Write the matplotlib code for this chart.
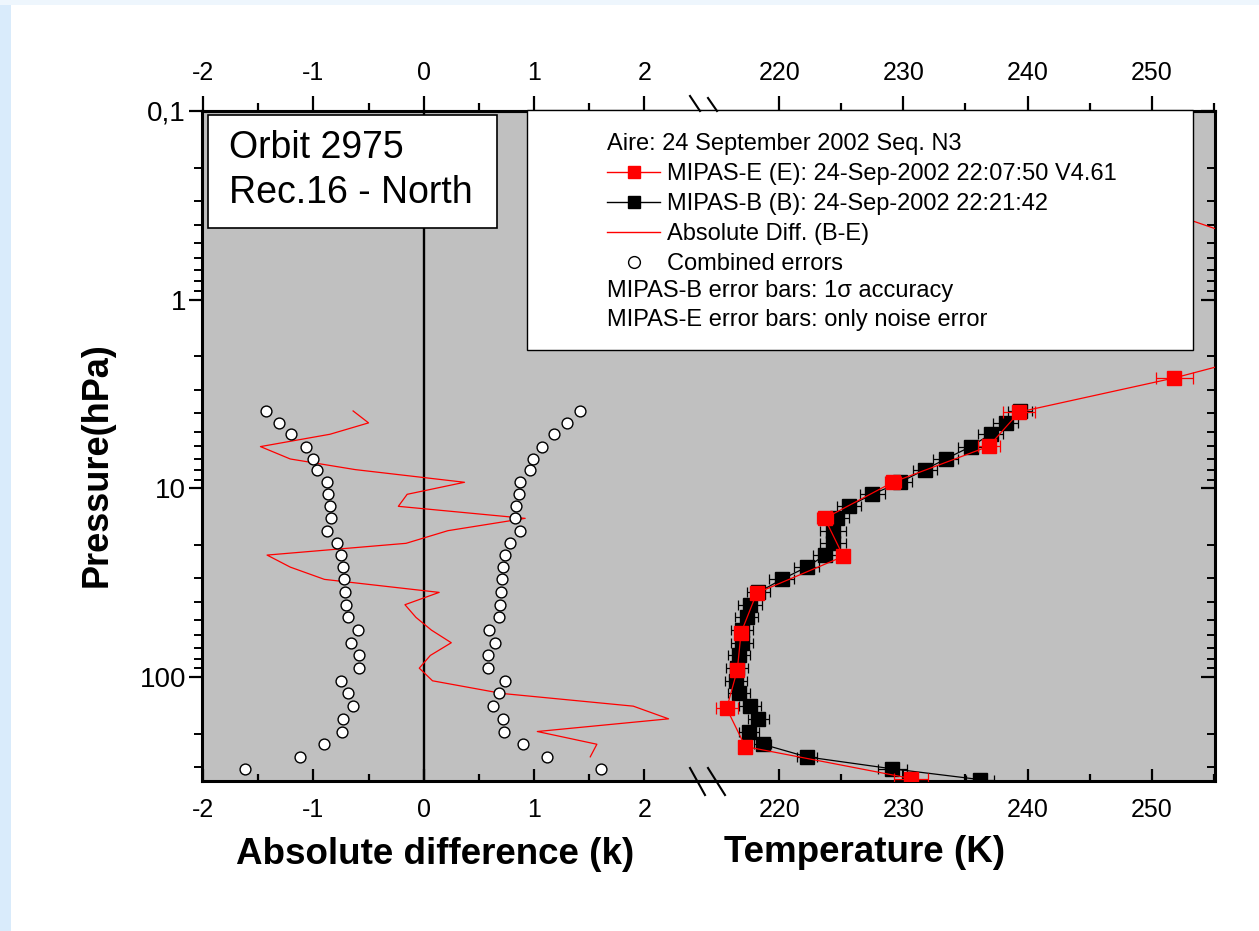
import matplotlib
matplotlib.use("Agg")
import matplotlib.pyplot as plt
from matplotlib.lines import Line2D
from matplotlib.patches import Rectangle
from matplotlib.ticker import FixedLocator, NullFormatter, LogLocator

plt.rcParams['font.family'] = ['Liberation Sans', 'DejaVu Sans']
plt.rcParams['axes.unicode_minus'] = False

# MIPAS-B levels (hPa) and temperatures (K)
b_pres = [3.89, 4.50, 5.17, 6.01, 6.99, 7.96, 9.29, 10.76, 12.46, 14.43,
          16.77, 19.57, 22.59, 26.16, 30.39, 35.62, 41.40, 48.34, 56.45, 65.85,
          76.89, 89.81, 104.8, 122.3, 142.8, 166.7, 194.6, 227.3, 265.1, 306.9, 349.9]
b_temp = [239.40, 238.24, 237.03, 235.42, 233.40, 231.73, 229.72, 227.48, 225.60, 224.61,
          224.34, 224.34, 223.69, 222.19, 220.18, 218.29, 217.62, 217.35, 216.98, 216.98,
          216.76, 216.57, 216.49, 216.76, 217.62, 218.29, 217.56, 218.65, 222.19, 229.10, 236.17]
b_err = [1.0, 1.0, 1.0, 1.0, 1.0, 1.0, 1.0, 1.0, 1.0, 1.0,
         1.05, 1.05, 1.0, 1.0, 1.0, 0.95, 0.95, 0.95, 0.9, 0.9,
         0.9, 0.9, 0.9, 0.9, 0.85, 0.85, 0.8, 0.7, 0.8, 1.15, 1.1]

# MIPAS-E levels (hPa) and temperatures (K)
e_pres = [0.361, 0.633, 1.07, 1.68, 2.60, 3.94, 5.99, 9.29, 14.43, 22.95,
          35.93, 58.29, 91.58, 146.9, 233.8, 345.6]
e_temp = [252.2, 263.0, 266.0, 262.8, 251.84, 239.34, 236.87, 229.13, 223.65, 225.15,
          218.16, 216.90, 216.60, 215.74, 217.24, 230.63]
e_err = [0.8, 1.8, 1.8, 1.6, 1.5, 1.3, 0.9, 0.65, 0.65, 0.3,
         0.3, 0.3, 0.3, 0.9, 0.3, 1.37]

# absolute difference B-E (K) on the first 29 B levels
abs_diff = [-0.64, -0.50, -0.85, -1.48, -1.21, -0.62, 0.37, -0.15, -0.23, 0.92,
            0.22, -0.16, -1.42, -1.21, -0.90, 0.14, -0.17, -0.07, 0.07, 0.25,
            0.06, -0.04, 0.08, 0.71, 1.90, 2.22, 1.03, 1.57, 1.51]

# combined errors (K) on the first 30 B levels
comb_lo = [-1.43, -1.31, -1.20, -1.07, -1.00, -0.97, -0.88, -0.87, -0.85, -0.84,
           -0.88, -0.79, -0.75, -0.73, -0.72, -0.71, -0.70, -0.69, -0.60, -0.66,
           -0.59, -0.59, -0.75, -0.69, -0.64, -0.73, -0.74, -0.90, -1.12, -1.62]
comb_hi = [1.42, 1.30, 1.18, 1.07, 0.99, 0.96, 0.87, 0.86, 0.84, 0.83,
           0.87, 0.78, 0.74, 0.72, 0.71, 0.70, 0.69, 0.68, 0.59, 0.65,
           0.58, 0.58, 0.74, 0.68, 0.63, 0.72, 0.73, 0.90, 1.12, 1.61]

diff_ticks = [-2, -1, 0, 1, 2]
diff_minor = [-1.5, -0.5, 0.5, 1.5]
temp_ticks = [220, 230, 240, 250]
temp_minor = [225, 235, 245, 255]
p_ticks = [0.1, 1, 10, 100]
p_labels = ['0,1', '1', '10', '100']

W, H = 1259, 931
fig = plt.figure(figsize=(W / 100, H / 100), dpi=100)
fig.patch.set_facecolor('white')


def fx(px):
    return px / W


def fy(py):
    return 1 - py / H


# pale blue page edges
fig.add_artist(Rectangle((0, 0), fx(11), 1, transform=fig.transFigure,
                         facecolor='#d9ebfb', edgecolor='none', zorder=0))
fig.add_artist(Rectangle((0, fy(5)), 1, 5 / H, transform=fig.transFigure,
                         facecolor='#eef6fd', edgecolor='none', zorder=0))

ax_bot, ax_h = fy(781), (781 - 111) / H
ax1 = fig.add_axes([fx(202), ax_bot, (700 - 202) / W, ax_h])
ax2 = fig.add_axes([fx(700), ax_bot, (1215 - 700) / W, ax_h], sharey=ax1)

gray = '#c0c0c0'
for ax in (ax1, ax2):
    ax.set_facecolor(gray)
    for s in ax.spines.values():
        s.set_linewidth(2.2)
ax1.spines['right'].set_visible(False)
ax2.spines['left'].set_visible(False)

# left panel: differences
ax1.axvline(0, color='black', lw=1.7, zorder=1.5)
ax1.plot(abs_diff, b_pres[:len(abs_diff)], color='red', lw=0.9, zorder=2)
ax1.plot(comb_lo, b_pres[:len(comb_lo)], 'o', mfc='white', mec='black', ms=7.8, mew=1, zorder=3)
ax1.plot(comb_hi, b_pres[:len(comb_hi)], 'o', mfc='white', mec='black', ms=7.8, mew=1, zorder=3)

# right panel: temperatures
ax2.errorbar(b_temp, b_pres, xerr=b_err, fmt='-s', color='black', ms=9.4, lw=0.9,
             elinewidth=0.9, capsize=3.5, capthick=0.9, zorder=3)
ax2.errorbar(e_temp, e_pres, xerr=e_err, fmt='-s', color='red', ms=9.4, lw=0.9,
             elinewidth=0.9, capsize=4.2, capthick=0.9, zorder=4)

ax1.set_yscale('log')
ax1.set_ylim(356, 0.1)
ax1.set_xlim(-2.01, 2.505)
ax2.set_xlim(213.59, 255.12)

ax1.set_yticks(p_ticks, p_labels)
ax1.yaxis.set_minor_locator(LogLocator(subs=range(2, 10), numticks=20))
ax1.yaxis.set_minor_formatter(NullFormatter())
ax1.tick_params(axis='y', which='major', direction='out', length=9.5, width=1.6,
                labelsize=20, pad=2, right=False)
ax1.tick_params(axis='y', which='minor', direction='out', length=5.5, width=1.4, right=False)
ax2.tick_params(axis='y', which='both', left=False, right=True, labelleft=False,
                direction='in')
ax2.tick_params(axis='y', which='major', length=10, width=1.6)
ax2.tick_params(axis='y', which='minor', length=5.8, width=1.4)

for ax, major, minor in ((ax1, diff_ticks, diff_minor), (ax2, temp_ticks, temp_minor)):
    ax.set_xticks(major)
    ax.xaxis.set_minor_locator(FixedLocator(minor))
    ax.tick_params(axis='x', which='both', direction='in', width=1.6, labelsize=18, pad=12)
    ax.tick_params(axis='x', which='major', length=9)
    ax.tick_params(axis='x', which='minor', length=5)
    sec = ax.secondary_xaxis('top')
    sec.set_xticks(major)
    sec.xaxis.set_minor_locator(FixedLocator(minor))
    sec.tick_params(axis='x', which='both', direction='out', width=1.6, labelsize=18, pad=8)
    sec.tick_params(axis='x', which='major', length=11)
    sec.tick_params(axis='x', which='minor', length=6)
    sec.spines['top'].set_linewidth(2.2)

ax1.set_xlabel('Absolute difference (k)', fontsize=26.5, fontweight='bold')
ax1.xaxis.set_label_coords((435 - 202) / 498, (781 - 855) / 670)
ax1.xaxis.label.set_va('center')
ax2.set_xlabel('Temperature (K)', fontsize=26.5, fontweight='bold')
ax2.xaxis.set_label_coords((865 - 700) / 515, (781 - 852) / 670)
ax2.xaxis.label.set_va('center')
ax1.set_ylabel('Pressure(hPa)', fontsize=26, fontweight='bold')
ax1.yaxis.set_label_coords((97 - 202) / 498, (781 - 465) / 670)
ax1.yaxis.label.set_va('center')

# orbit box
ax1.add_patch(Rectangle(((208 - 202) / 498, (781 - 228) / 670), 289 / 498, 113 / 670,
                        transform=ax1.transAxes, facecolor='white', edgecolor='black',
                        lw=1.2, zorder=6))
ax1.text((229 - 202) / 498, (781 - 148) / 670, 'Orbit 2975', transform=ax1.transAxes,
         fontsize=27, va='center', ha='left', zorder=7)
ax1.text((229 - 202) / 498, (781 - 193) / 670, 'Rec.16 - North', transform=ax1.transAxes,
         fontsize=27, va='center', ha='left', zorder=7)

# legend box
fig.add_artist(Rectangle((fx(527), fy(350)), (1193 - 527) / W, (350 - 110) / H,
                         transform=fig.transFigure, facecolor='white', edgecolor='black',
                         lw=1, zorder=3))
handles = [
    Line2D([], [], color='red', lw=1, marker='s', ms=8.5),
    Line2D([], [], color='black', lw=1, marker='s', ms=8.5),
    Line2D([], [], color='red', lw=1),
    Line2D([], [], color='none', marker='o', mfc='white', mec='black', ms=8.5, mew=1),
]
labels = ['MIPAS-E (E): 24-Sep-2002 22:07:50 V4.61',
          'MIPAS-B (B): 24-Sep-2002 22:21:42',
          'Absolute Diff. (B-E)',
          'Combined errors']
fig.legend(handles, labels, loc='upper left', bbox_to_anchor=(fx(607), fy(133)),
           bbox_transform=fig.transFigure, frameon=False, borderpad=0, borderaxespad=0,
           title='Aire: 24 September 2002 Seq. N3', title_fontsize=17, alignment='left',
           fontsize=17, handlelength=2.25, handletextpad=0.3, labelspacing=0.34,
           numpoints=1)
fig.text(fx(607), fy(291), 'MIPAS-B error bars: 1σ accuracy', fontsize=17,
         va='center', ha='left', zorder=6)
fig.text(fx(607), fy(320), 'MIPAS-E error bars: only noise error', fontsize=17,
         va='center', ha='left', zorder=6)

# axis break marks
for (x0, y0, x1, y1) in [(690, 96, 700, 111), (708, 98, 717, 111),
                         (690, 768, 705, 795), (708, 768, 725, 795)]:
    fig.add_artist(Line2D([fx(x0), fx(x1)], [fy(y0), fy(y1)], transform=fig.transFigure,
                          color='black', lw=1.5, zorder=8))

fig.savefig('out.png', dpi=100)
